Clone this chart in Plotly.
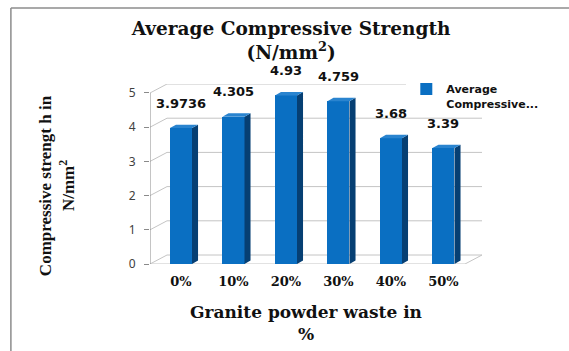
import plotly.graph_objects as go

# ---- data -------------------------------------------------------------
categories = ["0%", "10%", "20%", "30%", "40%", "50%"]
strength = [3.9736, 4.305, 4.93, 4.759, 3.68, 3.39]
y_ticks = [0, 1, 2, 3, 4, 5]
series_name = "Average<br>Compressive..."

# ---- oblique 3-D look (in axis units) ----------------------------------
DEPTH_X = 0.324      # depth of the box along x (category units)
DEPTH_Y = 0.263      # depth of the box along y (value units)
BAR_SHIFT = 0.09     # bars sit slightly inside the box
BAR_W = 0.42
SIDE_X = 0.115
SIDE_Y = 0.10

FRONT = "#0A6FC2"
SIDE = "#063F73"
TOP = "#2A84CF"
GRID = "#C4C4C4"
AXIS = "#8A8A8A"

n = len(categories)
x_lo, x_hi = -0.5, n - 0.5
y_top = max(y_ticks)
xs = [i + BAR_SHIFT for i in range(n)]

fig = go.Figure()

# front faces
fig.add_bar(
    x=xs, y=strength, width=BAR_W, name=series_name,
    marker=dict(color=FRONT, line=dict(width=0)),
    showlegend=True, hoverinfo="y",
)

# side and top faces of each column
side_x, side_y, top_x, top_y = [], [], [], []
for x, v in zip(xs, strength):
    l, r = x - BAR_W / 2, x + BAR_W / 2
    side_x += [r, r + SIDE_X, r + SIDE_X, r, r, None]
    side_y += [0, SIDE_Y, v + SIDE_Y, v, 0, None]
    top_x += [l, l + SIDE_X, r + SIDE_X, r, l, None]
    top_y += [v, v + SIDE_Y, v + SIDE_Y, v, v, None]

fig.add_scatter(x=side_x, y=side_y, mode="lines", fill="toself",
                fillcolor=SIDE, line=dict(width=0, color=SIDE),
                showlegend=False, hoverinfo="skip")
fig.add_scatter(x=top_x, y=top_y, mode="lines", fill="toself",
                fillcolor=TOP, line=dict(width=0, color=TOP),
                showlegend=False, hoverinfo="skip")

# ---- walls, floor and gridlines ----------------------------------------
shapes = []
for k in y_ticks:
    # back-wall gridline
    shapes.append(dict(type="line", xref="x", yref="y", layer="below",
                       x0=x_lo + DEPTH_X, y0=k + DEPTH_Y,
                       x1=x_hi + DEPTH_X, y1=k + DEPTH_Y,
                       line=dict(color=GRID, width=1)))
    # side-wall diagonal
    shapes.append(dict(type="line", xref="x", yref="y", layer="below",
                       x0=x_lo, y0=k, x1=x_lo + DEPTH_X, y1=k + DEPTH_Y,
                       line=dict(color=GRID, width=1)))
# floor front and right edges
shapes.append(dict(type="line", xref="x", yref="y", layer="below",
                   x0=x_lo, y0=0, x1=x_hi, y1=0,
                   line=dict(color=GRID, width=1)))
shapes.append(dict(type="line", xref="x", yref="y", layer="below",
                   x0=x_hi, y0=0, x1=x_hi + DEPTH_X, y1=DEPTH_Y,
                   line=dict(color=GRID, width=1)))
# vertical value axis
shapes.append(dict(type="line", xref="x", yref="y", layer="below",
                   x0=x_lo, y0=0, x1=x_lo, y1=y_top,
                   line=dict(color=AXIS, width=1)))
# chart frame (left and top edges)
shapes.append(dict(type="line", xref="paper", yref="paper",
                   x0=-0.419, y0=-0.6, x1=-0.419, y1=1.422,
                   line=dict(color="#8C8C8C", width=1.5)))
shapes.append(dict(type="line", xref="paper", yref="paper",
                   x0=-0.419, y0=1.422, x1=1.4, y1=1.422,
                   line=dict(color="#8C8C8C", width=1.5)))

# ---- value labels ------------------------------------------------------
annotations = []
for x, v in zip(xs, strength):
    annotations.append(dict(
        x=x, y=v, xref="x", yref="y", text=str(v), showarrow=False,
        yshift=25, font=dict(family="DejaVu Sans", size=13, color="#111111",
                             weight="bold")))

# axis titles
serif = "DejaVu Serif"
annotations.append(dict(
    x=0.47, y=-0.2, xref="paper", yref="paper", xanchor="center",
    yanchor="top", showarrow=False, text="Granite powder waste in<br>%",
    font=dict(family=serif, size=17, color="#111111", weight="bold")))
annotations.append(dict(
    x=-0.316, y=0.433, xref="paper", yref="paper", xanchor="center",
    yanchor="middle", showarrow=False, textangle=-90,
    text="Compressive strengt h in",
    font=dict(family="Liberation Serif", size=17, color="#111111",
              weight="bold")))
annotations.append(dict(
    x=-0.25, y=0.433, xref="paper", yref="paper", xanchor="center",
    yanchor="middle", showarrow=False, textangle=-90,
    text="N/mm<sup>2</sup>",
    font=dict(family="Liberation Serif", size=17, color="#111111",
              weight="bold")))

fig.update_layout(
    width=569, height=351, autosize=False,
    margin=dict(l=150, r=87, t=84, b=87),
    paper_bgcolor="white", plot_bgcolor="white",
    title=dict(
        text="Average Compressive Strength<br>(N/mm<sup>2</sup>)",
        x=0.425, xref="paper", xanchor="center",
        y=0.90, yref="container", yanchor="top",
        font=dict(family=serif, size=18.5, color="#111111", weight="bold")),
    xaxis=dict(range=[x_lo, x_hi + DEPTH_X], tickvals=xs, ticktext=categories,
               showgrid=False, zeroline=False, showline=False, ticks="",
               ticklabelstandoff=8,
               tickfont=dict(family=serif, size=13, color="#111111",
                             weight="bold")),
    yaxis=dict(range=[0, y_top + DEPTH_Y], tickvals=y_ticks,
               showgrid=False, zeroline=False, showline=False,
               ticks="outside", ticklen=5, tickcolor=AXIS,
               ticklabelstandoff=6,
               tickfont=dict(family="Noto Sans", size=12, color="#404040")),
    legend=dict(x=0.772, y=1.048, xref="paper", yref="paper",
                xanchor="left", yanchor="top", bgcolor="white",
                valign="top", itemwidth=30,
                font=dict(family="DejaVu Sans", size=11, color="#111111",
                          weight="bold")),
    shapes=shapes,
    annotations=annotations,
    bargap=0,
)

fig.write_html("out.html")
